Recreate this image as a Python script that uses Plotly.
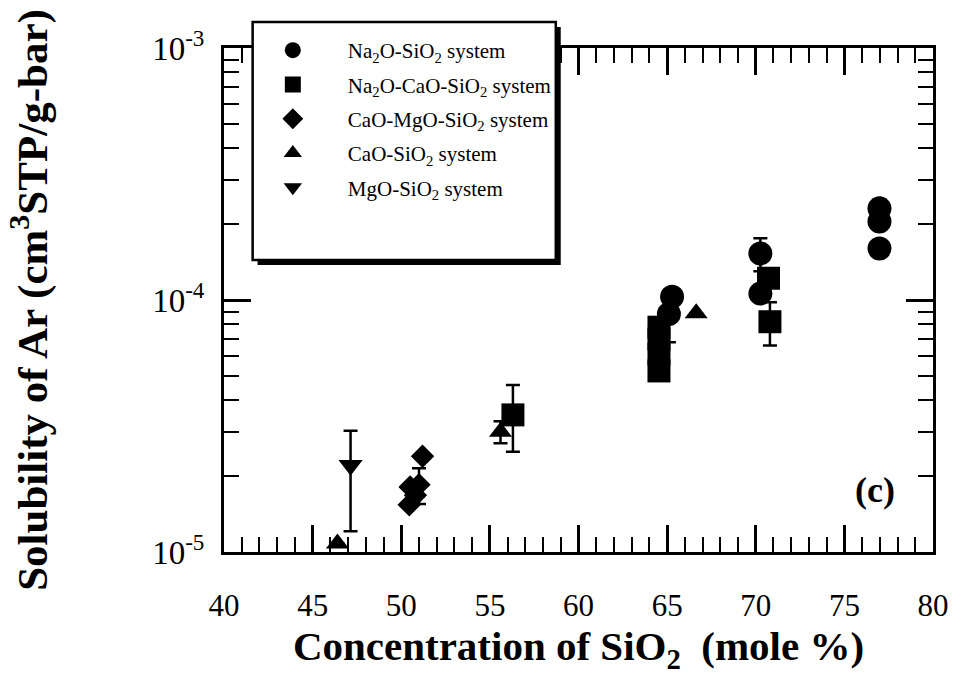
import plotly.graph_objects as go

# ---- data ----
na_x = [65.28, 65.1, 70.26, 70.26, 76.98, 76.98, 76.98]
na_y = [1.03e-4, 8.8e-5, 1.53e-4, 1.06e-4, 2.31e-4, 2.05e-4, 1.60e-4]
na_ep = [0, 2.0e-5, 2.3e-5, 0, 0, 0, 0]
na_em = [0, 2.0e-5, 2.3e-5, 0, 0, 0, 0]

naca_x = [56.3, 64.54, 64.54, 64.54, 64.54, 70.72, 70.8]
naca_y = [3.5e-5, 7.8e-5, 7.0e-5, 6.1e-5, 5.23e-5, 1.22e-4, 8.2e-5]
naca_ep = [1.1e-5, 0, 0, 0, 0, 0, 1.6e-5]
naca_em = [1.0e-5, 0, 0, 0, 0, 0, 1.6e-5]

camg_x = [50.5, 51.0, 50.45, 51.2, 50.8]
camg_y = [1.81e-5, 1.85e-5, 1.54e-5, 2.4e-5, 1.68e-5]
camg_ep = [0, 3.0e-6, 0, 0, 0]
camg_em = [0, 3.0e-6, 0, 0, 0]

cao_x = [46.4, 55.6, 66.64]
cao_y = [1.08e-5, 3.0e-5, 8.85e-5]
cao_ep = [0, 3.0e-6, 0]
cao_em = [0, 3.0e-6, 0]

mgo_x = [47.14]
mgo_y = [2.21e-5]
mgo_ep = [8.2e-6]
mgo_em = [1.0e-5]

names = [
    "Na<sub>2</sub>O-SiO<sub>2</sub> system",
    "Na<sub>2</sub>O-CaO-SiO<sub>2</sub> system",
    "CaO-MgO-SiO<sub>2</sub> system",
    "CaO-SiO<sub>2</sub> system",
    "MgO-SiO<sub>2</sub> system",
]

x_ticks = [40, 45, 50, 55, 60, 65, 70, 75, 80]
y_ticks = [1e-5, 1e-4, 1e-3]
y_ticktext = ["10<sup>-5</sup>", "10<sup>-4</sup>", "10<sup>-3</sup>"]
y_minor = [k * 10.0 ** e for e in (-5, -4) for k in range(2, 10)]

SERIF = "Liberation Serif, Times New Roman, serif"

series = [
    (na_x, na_y, na_ep, na_em, "circle", 24),
    (naca_x, naca_y, naca_ep, naca_em, "square", 23),
    (camg_x, camg_y, camg_ep, camg_em, "diamond", 18),
    (cao_x, cao_y, cao_ep, cao_em, "triangle-up", 20),
    (mgo_x, mgo_y, mgo_ep, mgo_em, "triangle-down", 21),
]

fig = go.Figure()
for i, ((xs, ys, ep, em, sym, sz), nm) in enumerate(zip(series, names)):
    fig.add_trace(go.Scatter(
        x=xs, y=ys, mode="markers", name=nm, legendgroup=f"g{i}",
        marker=dict(symbol=sym, size=sz, color="black", line=dict(width=0)),
        error_y=dict(type="data", array=ep, arrayminus=em, symmetric=False,
                     color="black", thickness=2.5, width=7),
    ))

# plot area in pixels: x 224..942, y 48..552
W, H = 961, 676
L, R, T, B = 224, 19, 48, 124
PW, PH = W - L - R, H - T - B


def px(x):
    return (x - L) / PW


def py(y):
    return (H - B - y) / PH


# legend frame with drop shadow
box = (253, 22, 560, 260)
sh = 5
fig.add_shape(type="rect", xref="paper", yref="paper", layer="above",
              x0=px(box[0] + sh), x1=px(box[2] + sh), y0=py(box[3] + sh), y1=py(box[1] + sh),
              fillcolor="black", line=dict(width=0))
fig.add_shape(type="rect", xref="paper", yref="paper", layer="above",
              x0=px(box[0]), x1=px(box[2]), y0=py(box[3]), y1=py(box[1]),
              fillcolor="white", line=dict(color="black", width=2.5))

fig.update_layout(
    width=W, height=H,
    margin=dict(l=L, r=R, t=T, b=B),
    paper_bgcolor="white", plot_bgcolor="white",
    font=dict(family=SERIF, color="black"),
    showlegend=True,
    legend=dict(
        x=px(238), y=py(30), xanchor="left", yanchor="top",
        bgcolor="rgba(0,0,0,0)", borderwidth=0,
        font=dict(family=SERIF, size=21, color="black"),
        itemwidth=100, tracegroupgap=4,
    ),
    xaxis=dict(
        range=[40, 80], tickvals=x_ticks,
        ticks="inside", ticklen=27, tickwidth=2.5, tickcolor="black",
        showline=True, linewidth=3, linecolor="black", mirror="allticks",
        showgrid=False, zeroline=False,
        tickfont=dict(family=SERIF, size=31),
        ticklabelstandoff=24,
        minor=dict(dtick=1, ticks="inside", ticklen=15, tickwidth=2, tickcolor="black", showgrid=False),
        title=dict(text="<b>Concentration of SiO<sub>2</sub>  (mole %)</b>",
                   font=dict(family=SERIF, size=41), standoff=4),
    ),
    yaxis=dict(
        type="log", range=[-5, -3], tickvals=y_ticks, ticktext=y_ticktext,
        ticks="inside", ticklen=27, tickwidth=2.5, tickcolor="black",
        showline=True, linewidth=3, linecolor="black", mirror="allticks",
        showgrid=False, zeroline=False,
        tickfont=dict(family=SERIF, size=33),
        ticklabelstandoff=10,
        minor=dict(tickvals=y_minor, ticks="inside", ticklen=15, tickwidth=2, tickcolor="black", showgrid=False),
        title=dict(text="<b>Solubility of Ar (cm<sup>3</sup>STP/g-bar)</b>",
                   font=dict(family=SERIF, size=43), standoff=92),
    ),
)

fig.add_annotation(
    x=px(883), y=py(490), xref="paper", yref="paper",
    xanchor="center", yanchor="middle",
    text="<b>(c)</b>", showarrow=False,
    font=dict(family=SERIF, size=36, color="black"),
)

fig.write_html("out.html")
